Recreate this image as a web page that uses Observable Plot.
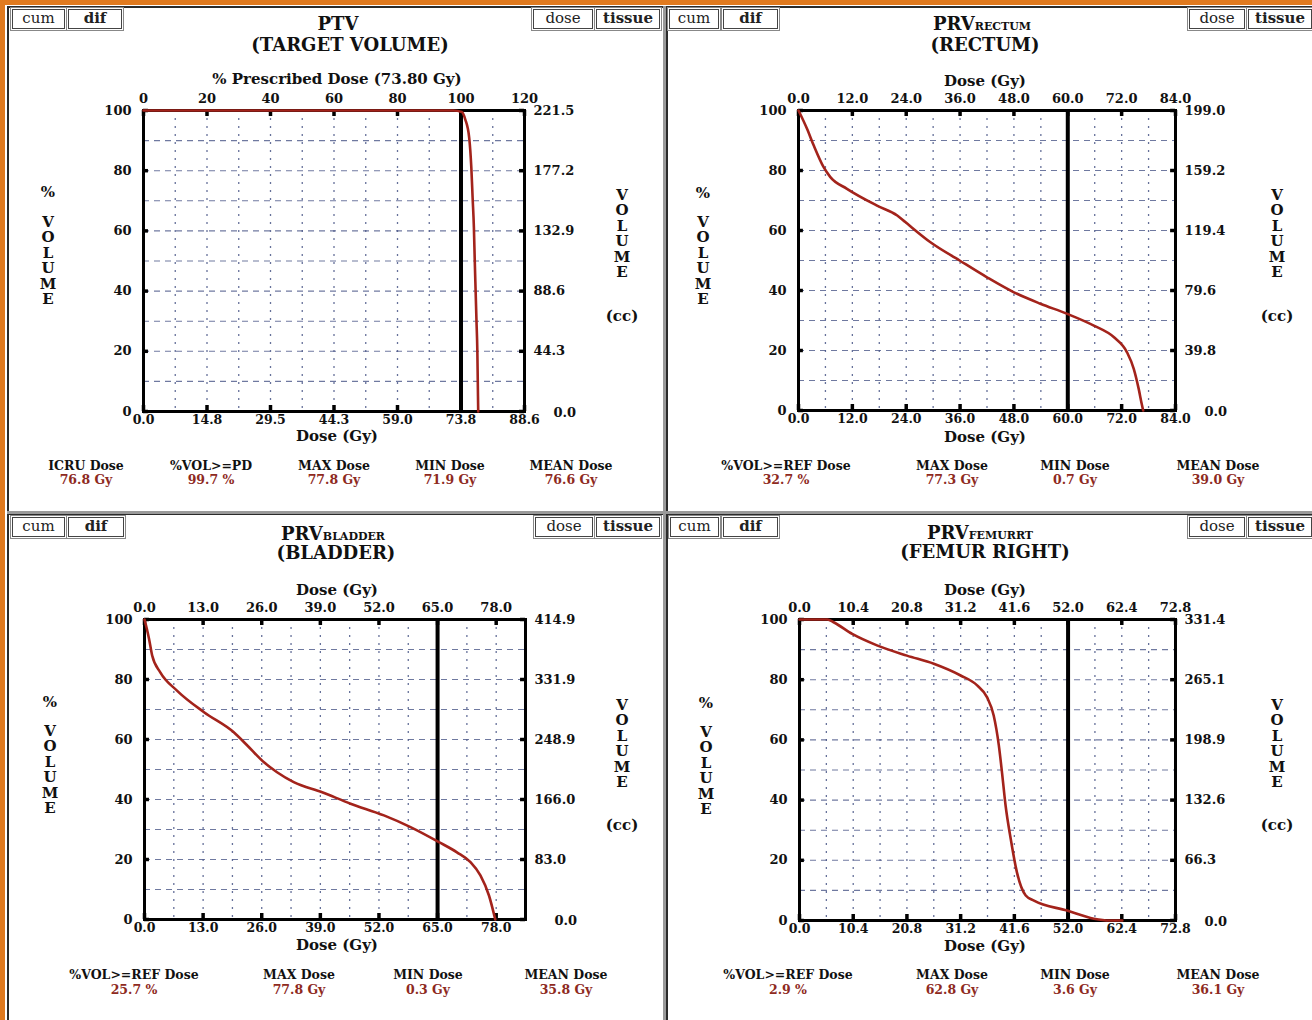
<!DOCTYPE html>
<html><head><meta charset="utf-8">
<script src="https://cdn.jsdelivr.net/npm/d3@7"></script>
<script src="https://cdn.jsdelivr.net/npm/@observablehq/plot@0.6"></script>
<style>
body{margin:0;background:#fff;}
#page{position:relative;width:1312px;height:1020px;overflow:hidden;background:#fff;font-family:"DejaVu Serif",serif;color:#111;}
.c{position:absolute;white-space:nowrap;transform:translate(-50%,-50%);}
.box{position:absolute;box-sizing:border-box;}
.btn{position:absolute;box-sizing:border-box;border:1px solid #444;box-shadow:0 0 0 1px #fff,0 0 0 2px #888;font-size:15px;line-height:17px;text-align:center;font-family:"DejaVu Serif",serif;color:#222;}
.title{font-weight:bold;font-size:18px;color:#111;}
.sc{font-size:11px;}
.ax{font-weight:bold;font-size:15px;color:#111;}
.let{font-weight:bold;font-size:15px;color:#111;}
.sl{font-weight:bold;font-size:12.5px;color:#111;}
.sv{font-weight:bold;font-size:12.5px;color:#8e2a1e;}
</style></head>
<body><div id="page"></div>
<script>
// ---------------- data ----------------
const yTicks = [0, 20, 40, 60, 80, 100];

// PTV (target volume)
const ptvDose   = [0, 72.0, 74.0, 74.8, 75.7, 76.2, 76.5, 76.8, 77.0, 77.2, 77.4, 77.6, 77.7, 77.8];
const ptvVolume = [100, 100, 99.5, 97, 91, 81, 71, 61, 50, 40, 30, 20, 10, 0];
const ptvTicks = [0, 14.76, 29.52, 44.28, 59.04, 73.8, 88.56];
const ptvBottomLabels = ["0.0", "14.8", "29.5", "44.3", "59.0", "73.8", "88.6"];
const ptvTopLabels = ["0", "20", "40", "60", "80", "100", "120"];
const ptvVolLabels = ["0.0", "44.3", "88.6", "132.9", "177.2", "221.5"];
const ptvGridStep = 7.38;
const ptvRef = 73.8;
const ptvStatNames = ["ICRU Dose", "%VOL>=PD", "MAX Dose", "MIN Dose", "MEAN Dose"];
const ptvStatValues = ["76.8 Gy", "99.7 %", "77.8 Gy", "71.9 Gy", "76.6 Gy"];

// Rectum
const rectumDose   = [0, 1.9, 3.4, 5.6, 7.1, 10.8, 17.5, 22.0, 23.8, 29.4, 35.9, 42.0, 48.0, 53.9, 59.9, 65.8, 70.3, 73.2, 74.7, 75.8, 76.5, 76.8];
const rectumVolume = [100, 93.9, 88.3, 81.1, 77.8, 73.9, 68.3, 65.0, 62.8, 56.1, 50.0, 44.4, 39.4, 35.6, 32.2, 28.3, 24.4, 19.4, 13.9, 7.2, 2, 0];
const rectumTicks = [0, 12, 24, 36, 48, 60, 72, 84];
const rectumLabels = ["0.0", "12.0", "24.0", "36.0", "48.0", "60.0", "72.0", "84.0"];
const rectumVolLabels = ["0.0", "39.8", "79.6", "119.4", "159.2", "199.0"];
const rectumGridStep = 6;
const rectumRef = 60;
const rectumStatNames = ["%VOL>=REF Dose", "MAX Dose", "MIN Dose", "MEAN Dose"];
const rectumStatValues = ["32.7 %", "77.3 Gy", "0.7 Gy", "39.0 Gy"];

// Bladder
const bladderDose   = [0, 0.5, 1.0, 1.7, 3.5, 7.2, 13.2, 19.8, 22.8, 26.5, 29.4, 33.1, 39.4, 45.7, 53.1, 59.0, 65.3, 69.3, 72.3, 74.5, 76.4, 77.8];
const bladderVolume = [100, 97, 93.6, 88, 82.4, 76.3, 69.1, 62.4, 58, 52.4, 49.1, 45.8, 42.4, 38.6, 34.7, 30.8, 25.8, 22.4, 19.1, 14.7, 8, 0];
const bladderTicks = [0, 13, 26, 39, 52, 65, 78];
const bladderLabels = ["0.0", "13.0", "26.0", "39.0", "52.0", "65.0", "78.0"];
const bladderVolLabels = ["0.0", "83.0", "166.0", "248.9", "331.9", "414.9"];
const bladderXMax = 84.5;
const bladderGridStep = 6.5;
const bladderRef = 65;
const bladderStatNames = ["%VOL>=REF Dose", "MAX Dose", "MIN Dose", "MEAN Dose"];
const bladderStatValues = ["25.7 %", "77.8 Gy", "0.3 Gy", "35.8 Gy"];

// Femur right
const femurDose   = [0, 5.4, 6.6, 10.2, 15.0, 20.8, 26.0, 31.2, 34.4, 36.3, 37.6, 38.6, 39.2, 39.9, 40.9, 42.1, 43.8, 45.4, 51.8, 57.0, 60.0, 62.5];
const femurVolume = [100, 100, 99.1, 95.2, 91.4, 88, 85.3, 81.4, 78.1, 74.2, 68.1, 58.1, 49.3, 38.2, 27.1, 16, 8.3, 6.6, 3.3, 0.6, 0, 0];
const femurTicks = [0, 10.4, 20.8, 31.2, 41.6, 52.0, 62.4, 72.8];
const femurLabels = ["0.0", "10.4", "20.8", "31.2", "41.6", "52.0", "62.4", "72.8"];
const femurVolLabels = ["0.0", "66.3", "132.6", "198.9", "265.1", "331.4"];
const femurGridStep = 5.2;
const femurRef = 52;
const femurStatNames = ["%VOL>=REF Dose", "MAX Dose", "MIN Dose", "MEAN Dose"];
const femurStatValues = ["2.9 %", "62.8 Gy", "3.6 Gy", "36.1 Gy"];

// ---------------- layout ----------------
const panels = [
  {x:8, y:8, w:655, h:504, L:143, R:524, T:110, B:411,
   dose:ptvDose, vol:ptvVolume, ticks:ptvTicks, bottom:ptvBottomLabels, top:ptvTopLabels, volL:ptvVolLabels,
   xMax:ptvTicks[ptvTicks.length-1], step:ptvGridStep, ref:ptvRef,
   title:'PTV', sub:'(TARGET VOLUME)', tcx:338, tcy:23, scy:44, scx:350,
   topTitle:'% Prescribed Dose (73.80 Gy)', ttcx:337, ttcy:79, btcy:436,
   leftX:48, pctY:192, vY:222, rightX:622, rvY:195, ccY:316,
   statNames:ptvStatNames, statValues:ptvStatValues, statX:[86,211,334,450,571], sy:465, vy:479,
   btn:[[12,9,53,'cum',false],[68,9,54,'dif',true],[533,9,60,'dose',false],[596,9,64,'tissue',true]]},
  {x:666, y:8, w:646, h:504, L:798, R:1175, T:110, B:410,
   dose:rectumDose, vol:rectumVolume, ticks:rectumTicks, bottom:rectumLabels, top:rectumLabels, volL:rectumVolLabels,
   xMax:rectumTicks[rectumTicks.length-1], step:rectumGridStep, ref:rectumRef,
   title:'PRV<span class="sc">RECTUM</span>', sub:'(RECTUM)', tcx:982, tcy:23, scy:44, scx:985,
   topTitle:'Dose (Gy)', ttcx:985, ttcy:81, btcy:437,
   leftX:703, pctY:193, vY:222, rightX:1277, rvY:195, ccY:316,
   statNames:rectumStatNames, statValues:rectumStatValues, statX:[786,952,1075,1218], sy:465, vy:479,
   btn:[[669,9,50,'cum',false],[723,9,55,'dif',true],[1189,9,56,'dose',false],[1248,9,64,'tissue',true]]},
  {x:8, y:515, w:655, h:505, L:144, R:525, T:619, B:919,
   dose:bladderDose, vol:bladderVolume, ticks:bladderTicks, bottom:bladderLabels, top:bladderLabels, volL:bladderVolLabels,
   xMax:bladderXMax, step:bladderGridStep, ref:bladderRef,
   title:'PRV<span class="sc">BLADDER</span>', sub:'(BLADDER)', tcx:333, tcy:533, scy:552, scx:336,
   topTitle:'Dose (Gy)', ttcx:337, ttcy:590, btcy:945,
   leftX:50, pctY:702, vY:731, rightX:622, rvY:705, ccY:825,
   statNames:bladderStatNames, statValues:bladderStatValues, statX:[134,299,428,566], sy:974, vy:989,
   btn:[[12,517,53,'cum',false],[68,517,56,'dif',true],[535,517,58,'dose',false],[596,517,64,'tissue',true]]},
  {x:666, y:515, w:646, h:505, L:799, R:1175, T:619, B:920,
   dose:femurDose, vol:femurVolume, ticks:femurTicks, bottom:femurLabels, top:femurLabels, volL:femurVolLabels,
   xMax:femurTicks[femurTicks.length-1], step:femurGridStep, ref:femurRef,
   title:'PRV<span class="sc">FEMURRT</span>', sub:'(FEMUR RIGHT)', tcx:980, tcy:532, scy:551, scx:985,
   topTitle:'Dose (Gy)', ttcx:985, ttcy:590, btcy:946,
   leftX:706, pctY:703, vY:732, rightX:1277, rvY:705, ccY:825,
   statNames:femurStatNames, statValues:femurStatValues, statX:[788,952,1075,1218], sy:974, vy:989,
   btn:[[670,517,49,'cum',false],[723,517,55,'dif',true],[1189,517,56,'dose',false],[1248,517,64,'tissue',true]]}
];

const page = document.getElementById('page');
function add(html, cls, cx, cy) {
  const d = document.createElement('div');
  d.className = 'c ' + cls;
  d.style.left = cx + 'px'; d.style.top = cy + 'px';
  d.innerHTML = html; page.appendChild(d); return d;
}
function rect(x, y, w, h, css) {
  const d = document.createElement('div');
  d.className = 'box';
  Object.assign(d.style, {left:x+'px', top:y+'px', width:w+'px', height:h+'px'}, css);
  page.appendChild(d);
}

// frame decorations
rect(0, 0, 1312, 5, {background:'#e07a1f'});
rect(0, 0, 5, 1020, {background:'#e07a1f'});
rect(7, 6, 658, 508, {border:'2px solid #2b2b2b'});
rect(666, 6, 650, 508, {border:'2px solid #2b2b2b'});
rect(7, 513, 658, 510, {border:'2px solid #2b2b2b'});
rect(666, 513, 650, 510, {border:'2px solid #2b2b2b'});
rect(663, 6, 3, 1014, {background:'#9a9a9a'});
rect(7, 511, 1305, 3, {background:'#9a9a9a'});

const gridColor = '#4b5888';
const yUpper = yTicks.filter(d => d > 0);
for (const p of panels) {
  const data = p.dose.map((d, i) => ({dose: d, vol: p.vol[i]}));
  const gx = d3.range(p.step, p.xMax - 1e-6, p.step);
  const gy = d3.range(10, 100, 10);
  const tx = p.xMax * 0.013;
  const chart = Plot.plot({
    width: p.w, height: p.h,
    marginLeft: p.L - p.x, marginRight: p.x + p.w - p.R,
    marginTop: p.T - p.y, marginBottom: p.y + p.h - p.B,
    x: {domain: [0, p.xMax]},
    y: {domain: [0, 100]},
    style: {background: 'transparent', fontFamily: '"DejaVu Serif", serif', fontWeight: 'bold', color: '#111', overflow: 'visible'},
    marks: [
      Plot.ruleX(gx, {stroke: gridColor, strokeWidth: 1.3, strokeDasharray: '2,6', strokeOpacity: 0.85}),
      Plot.ruleY(gy, {stroke: gridColor, strokeWidth: 1.1, strokeDasharray: '6,5', strokeOpacity: 0.8}),
      Plot.ruleX(p.ticks, {y1: 0, y2: 2, stroke: '#000', strokeWidth: 3.5}),
      Plot.ruleX(p.ticks, {y1: 98, y2: 100, stroke: '#000', strokeWidth: 3.5}),
      Plot.ruleY(yTicks, {x1: 0, x2: tx, stroke: '#000', strokeWidth: 3.5}),
      Plot.ruleY(yTicks, {x1: p.xMax - tx, x2: p.xMax, stroke: '#000', strokeWidth: 3.5}),
      Plot.ruleX([p.ref], {stroke: '#000', strokeWidth: 4}),
      Plot.frame({stroke: '#000', strokeWidth: 3}),
      Plot.line(data, {x: 'dose', y: 'vol', stroke: '#a3231b', strokeWidth: 2.6, curve: 'monotone-x'}),
      Plot.axisX(p.ticks, {anchor: 'bottom', tickSize: 0, tickPadding: 4, fontSize: 12.5, label: null,
        tickFormat: d => p.bottom[p.ticks.indexOf(d)]}),
      Plot.axisX(p.ticks, {anchor: 'top', tickSize: 0, tickPadding: 8, fontSize: 13, label: null,
        tickFormat: d => p.top[p.ticks.indexOf(d)]}),
      Plot.axisY(yTicks, {anchor: 'left', tickSize: 0, tickPadding: 12, fontSize: 13, label: null,
        tickFormat: d => String(d)}),
      Plot.axisY(yUpper, {anchor: 'right', tickSize: 0, tickPadding: 9, fontSize: 13, label: null,
        tickFormat: d => p.volL[yTicks.indexOf(d)]}),
      Plot.axisY([0], {anchor: 'right', tickSize: 0, tickPadding: 29, fontSize: 13, label: null, dy: 1,
        tickFormat: d => p.volL[yTicks.indexOf(d)]})
    ]
  });
  chart.style.position = 'absolute';
  chart.style.left = p.x + 'px';
  chart.style.top = p.y + 'px';
  page.appendChild(chart);

  add(p.title, 'title', p.tcx, p.tcy);
  add(p.sub, 'title', p.scx, p.scy);
  add(p.topTitle, 'ax', p.ttcx, p.ttcy);
  add('Dose (Gy)', 'ax', p.ttcx, p.btcy);
  add('%', 'let', p.leftX, p.pctY);
  'VOLUME'.split('').forEach((ch, i) => add(ch, 'let', p.leftX, p.vY + i * 15.4));
  'VOLUME'.split('').forEach((ch, i) => add(ch, 'let', p.rightX, p.rvY + i * 15.4));
  add('(cc)', 'let', p.rightX, p.ccY);
  p.statNames.forEach((s, i) => {
    add(s.replace('>', '&gt;'), 'sl', p.statX[i], p.sy);
    add(p.statValues[i], 'sv', p.statX[i], p.vy);
  });
  for (const [bx, by, bw, txt, bold] of p.btn) {
    const d = document.createElement('div');
    d.className = 'btn';
    Object.assign(d.style, {left: bx + 'px', top: by + 'px', width: bw + 'px', height: '20px', fontWeight: bold ? 'bold' : 'normal'});
    d.textContent = txt;
    page.appendChild(d);
  }
}
</script>
</body></html>
